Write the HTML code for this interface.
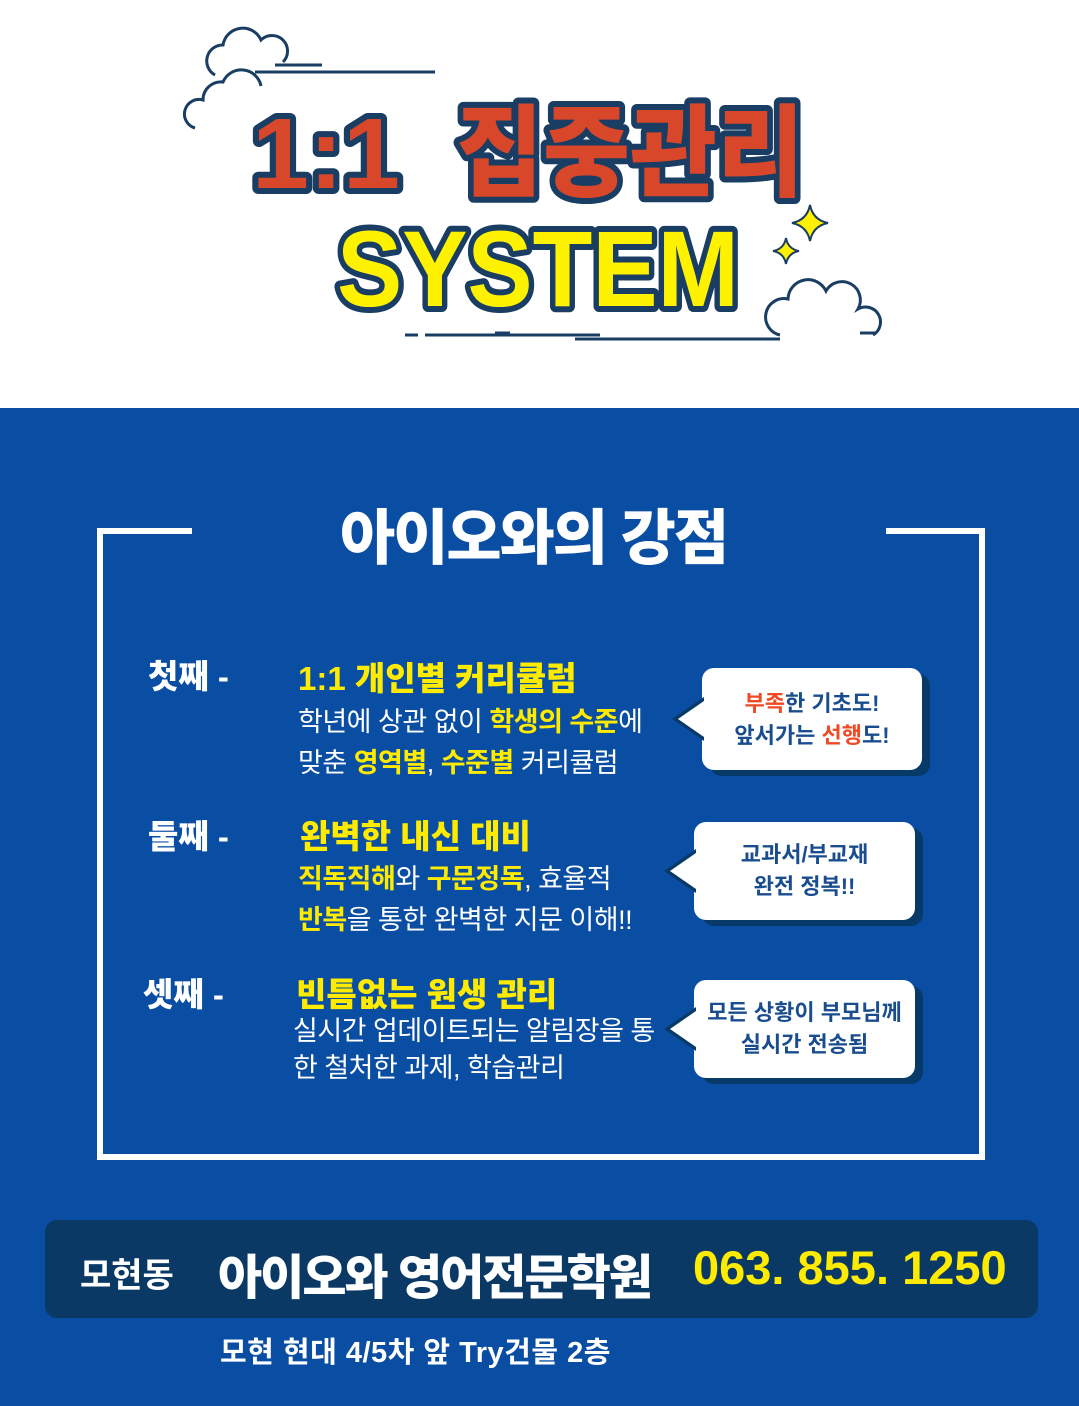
<!DOCTYPE html>
<html><head><meta charset="utf-8"><style>
body{margin:0;width:1079px;height:1406px;overflow:hidden;background:#fff;font-family:"Liberation Sans","Noto Sans CJK KR",sans-serif;}
.blue{position:absolute;left:0;top:408px;width:1079px;height:998px;background:#0a4ea3;}
.abs{position:absolute;white-space:nowrap;}
.w{color:#fff;font-weight:bold;}
.y{color:#ffeb00;font-weight:bold;}
.lab{font-size:33px;color:#fff;font-weight:900;}
.hd{font-size:33px;color:#ffeb00;font-weight:900;}
.bd{font-size:27px;color:#fff;line-height:41px;letter-spacing:-0.5px;}
.bub{position:absolute;background:#fff;border-radius:12px;box-shadow:8px 6px 0 #073a68;text-align:center;color:#1a4d8f;font-weight:bold;font-size:22px;line-height:32px;}
.bub:before{content:"";position:absolute;left:-30px;top:50%;margin-top:-22px;border-top:22px solid transparent;border-bottom:22px solid transparent;border-right:32px solid #073a68;}
.bub:after{content:"";position:absolute;left:-24px;top:50%;margin-top:-18px;border-top:18px solid transparent;border-bottom:18px solid transparent;border-right:26px solid #fff;}
.r{color:#f04a24;}
</style></head><body>
<svg class="abs" style="left:0;top:0" width="1079" height="408">
<g fill="none" stroke="#1a3d63" stroke-width="3">
<path d="M215 75 a16 16 0 0 1 8 -30 a20 20 0 0 1 38 -5 a14 14 0 0 1 22 22"/>
<path d="M195 128 a14 14 0 0 1 8 -28 a18 18 0 0 1 20 -18 a20 20 0 0 1 38 4"/>
<line x1="275" y1="65" x2="322" y2="65"/><line x1="255" y1="72" x2="435" y2="72"/>
<line x1="253" y1="130" x2="273" y2="130"/>
<path d="M780 335 a18 18 0 0 1 8 -36 a20 20 0 0 1 38 -8 a18 18 0 0 1 32 18 a15 15 0 0 1 15 26"/>
<line x1="405" y1="335" x2="418" y2="335"/><line x1="425" y1="335" x2="600" y2="335"/>
<line x1="495" y1="333" x2="510" y2="333"/><line x1="575" y1="339" x2="780" y2="339"/><line x1="860" y1="333" x2="875" y2="333"/>
</g>
<g fill="#fff200" stroke="#1a3d63" stroke-width="2">
<path d="M810 205 q3 15 18 18 q-15 3 -18 18 q-3 -15 -18 -18 q15 -3 18 -18z"/>
<path d="M786 238 q2 11 13 13 q-11 2 -13 13 q-2 -11 -13 -13 q11 -2 13 -13z"/>
</g>
<g font-family="Liberation Sans, Noto Sans CJK KR, sans-serif" font-weight="900" font-size="100" fill="#d9472b" stroke="#1a3d63" stroke-width="12" paint-order="stroke" stroke-linejoin="round">
<text x="252" y="188" textLength="148" lengthAdjust="spacingAndGlyphs">1:1</text>
<text x="456" y="188" textLength="348" lengthAdjust="spacingAndGlyphs">집중관리</text>
</g>
<text x="337" y="306" textLength="402" lengthAdjust="spacingAndGlyphs" font-family="Liberation Sans, sans-serif" font-weight="900" font-size="108" fill="#fff200" stroke="#1a3d63" stroke-width="12" paint-order="stroke" stroke-linejoin="round">SYSTEM</text>
</svg>
<div class="blue"></div>
<div class="abs" style="left:97px;top:528px;width:6px;height:632px;background:#fff"></div>
<div class="abs" style="left:979px;top:528px;width:6px;height:632px;background:#fff"></div>
<div class="abs" style="left:97px;top:1154px;width:888px;height:6px;background:#fff"></div>
<div class="abs" style="left:97px;top:528px;width:95px;height:6px;background:#fff"></div>
<div class="abs" style="left:886px;top:528px;width:99px;height:6px;background:#fff"></div>
<div class="abs w" style="left:340px;top:490px;font-size:60px;letter-spacing:-2px;font-weight:900">아이오와의 강점</div>

<div class="abs lab" style="left:148px;top:650px">첫째 -</div>
<div class="abs hd" style="left:298px;top:652px">1:1 개인별 커리큘럼</div>
<div class="abs bd" style="left:298px;top:702px">학년에 상관 없이 <span class="y">학생의 수준</span>에<br>맞춘 <span class="y">영역별</span>, <span class="y">수준별</span> 커리큘럼</div>

<div class="abs lab" style="left:148px;top:810px">둘째 -</div>
<div class="abs hd" style="left:300px;top:810px">완벽한 내신 대비</div>
<div class="abs bd" style="left:298px;top:859px"><span class="y">직독직해</span>와 <span class="y">구문정독</span>, 효율적<br><span class="y">반복</span>을 통한 완벽한 지문 이해!!</div>

<div class="abs lab" style="left:143px;top:968px">셋째 -</div>
<div class="abs hd" style="left:296px;top:968px">빈틈없는 원생 관리</div>
<div class="abs bd" style="left:293px;top:1013px;line-height:37px">실시간 업데이트되는 알림장을 통<br>한 철처한 과제, 학습관리</div>

<div class="bub" style="left:702px;top:668px;width:220px;height:102px;padding-top:20px;box-sizing:border-box"><span class="r">부족</span>한 기초도!<br>앞서가는 <span class="r">선행</span>도!</div>
<div class="bub" style="left:694px;top:822px;width:221px;height:98px;padding-top:17px;box-sizing:border-box">교과서/부교재<br>완전 정복!!</div>
<div class="bub" style="left:694px;top:980px;width:221px;height:98px;padding-top:17px;box-sizing:border-box">모든 상황이 부모님께<br>실시간 전송됨</div>

<div class="abs" style="left:45px;top:1220px;width:993px;height:98px;background:#0b3966;border-radius:12px"></div>
<div class="abs w" style="left:80px;top:1248px;font-size:34px">모현동</div>
<div class="abs w" style="left:218px;top:1238px;font-size:48px;letter-spacing:-2px;font-weight:900">아이오와 영어전문학원</div>
<div class="abs y" style="left:693px;top:1240px;font-size:47px;font-weight:900">063. 855. 1250</div>
<div class="abs w" style="left:220px;top:1329px;font-size:29px;letter-spacing:0.5px">모현 현대 4/5차 앞 Try건물 2층</div>
</body></html>
